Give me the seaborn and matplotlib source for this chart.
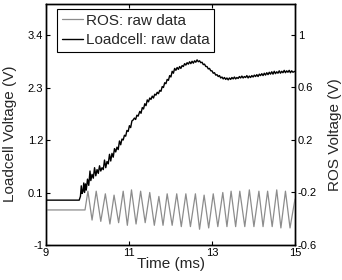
import matplotlib
matplotlib.use("Agg")
import matplotlib.pyplot as plt
import seaborn as sns
from matplotlib.lines import Line2D

# ---- data ----
load_t = [9.00, 9.80, 9.83, 9.85, 9.87, 9.89, 9.91, 9.93, 9.95, 9.97,
          10.00, 10.03, 10.06, 10.08, 10.11, 10.14, 10.17, 10.20, 10.23, 10.26,
          10.29, 10.32, 10.35, 10.38, 10.41, 10.44, 10.47, 10.50, 10.53, 10.56,
          10.59, 10.62, 10.65, 10.68, 10.71, 10.74, 10.77, 10.80, 10.83, 10.86,
          10.89, 10.92, 10.95, 10.98, 11.01, 11.04, 11.07, 11.10, 11.13, 11.16,
          11.19, 11.22, 11.26, 11.29, 11.32, 11.35, 11.38, 11.41, 11.44, 11.47,
          11.50, 11.53, 11.56, 11.59, 11.62, 11.65, 11.68, 11.71, 11.74, 11.77,
          11.80, 11.83, 11.86, 11.89, 11.92, 11.95, 11.98, 12.01, 12.04, 12.07,
          12.10, 12.13, 12.16, 12.19, 12.22, 12.25, 12.28, 12.31, 12.34, 12.37,
          12.40, 12.43, 12.46, 12.49, 12.52, 12.55, 12.58, 12.61, 12.64, 12.67,
          12.70, 12.73, 12.76, 12.79, 12.82, 12.85, 12.88, 12.91, 12.94, 12.97,
          13.00, 13.03, 13.06, 13.09, 13.12, 13.15, 13.18, 13.21, 13.24, 13.27,
          13.30, 13.33, 13.36, 13.39, 13.42, 13.45, 13.48, 13.51, 13.54, 13.57,
          13.60, 13.63, 13.66, 13.69, 13.72, 13.75, 13.78, 13.81, 13.84, 13.87,
          13.90, 13.93, 13.96, 13.99, 14.02, 14.05, 14.08, 14.11, 14.14, 14.17,
          14.20, 14.23, 14.26, 14.29, 14.32, 14.35, 14.38, 14.41, 14.44, 14.47,
          14.50, 14.53, 14.56, 14.59, 14.62, 14.65, 14.68, 14.71, 14.74, 14.77,
          14.80, 14.83, 14.86, 14.89, 14.92, 14.95, 15.00]
load_v = [-0.06, -0.06, 0.02, 0.24, 0.08, 0.12, 0.30, 0.10, 0.28, 0.15,
          0.38, 0.25, 0.55, 0.35, 0.48, 0.40, 0.62, 0.45, 0.58, 0.50,
          0.66, 0.55, 0.62, 0.58, 0.78, 0.62, 0.75, 0.70, 0.90, 0.76,
          0.92, 0.84, 1.02, 0.95, 1.05, 1.00, 1.18, 1.10, 1.22, 1.20,
          1.30, 1.28, 1.40, 1.38, 1.50, 1.46, 1.60, 1.62, 1.66, 1.63,
          1.72, 1.70, 1.80, 1.76, 1.88, 1.85, 1.96, 1.92, 2.04, 2.00,
          2.08, 2.05, 2.12, 2.08, 2.16, 2.14, 2.20, 2.17, 2.24, 2.22,
          2.32, 2.30, 2.40, 2.38, 2.47, 2.45, 2.55, 2.52, 2.64, 2.60,
          2.70, 2.66, 2.72, 2.68, 2.74, 2.70, 2.76, 2.74, 2.80, 2.77,
          2.82, 2.79, 2.84, 2.80, 2.85, 2.81, 2.86, 2.83, 2.88, 2.84,
          2.86, 2.82, 2.83, 2.78, 2.79, 2.74, 2.74, 2.69, 2.70, 2.65,
          2.65, 2.60, 2.61, 2.56, 2.57, 2.53, 2.55, 2.50, 2.52, 2.48,
          2.51, 2.47, 2.50, 2.46, 2.50, 2.47, 2.51, 2.48, 2.52, 2.48,
          2.51, 2.49, 2.53, 2.50, 2.54, 2.50, 2.53, 2.51, 2.55, 2.50,
          2.54, 2.51, 2.55, 2.52, 2.56, 2.53, 2.57, 2.53, 2.58, 2.55,
          2.59, 2.55, 2.60, 2.56, 2.61, 2.57, 2.62, 2.58, 2.63, 2.58,
          2.64, 2.59, 2.63, 2.60, 2.65, 2.60, 2.64, 2.61, 2.66, 2.61,
          2.65, 2.62, 2.66, 2.61, 2.65, 2.62, 2.64]

ros_t = [9.00, 9.94,
         10.01, 10.11, 10.21, 10.32, 10.43, 10.54, 10.64, 10.75, 10.86, 10.96,
         11.06, 11.17, 11.28, 11.39, 11.50, 11.61, 11.72, 11.82, 11.92, 12.04,
         12.15, 12.26, 12.37, 12.48, 12.60, 12.70, 12.81, 12.92, 13.03, 13.14,
         13.26, 13.36, 13.46, 13.57, 13.67, 13.79, 13.90, 14.01, 14.13, 14.23,
         14.34, 14.45, 14.56, 14.66, 14.77, 14.88, 15.00]
ros_v = [-0.333, -0.333,
         -0.19, -0.41, -0.19, -0.42, -0.21, -0.44, -0.22, -0.43, -0.19, -0.45,
         -0.18, -0.44, -0.19, -0.43, -0.20, -0.45, -0.23, -0.45, -0.21, -0.45,
         -0.21, -0.46, -0.21, -0.46, -0.21, -0.48, -0.22, -0.47, -0.21, -0.46,
         -0.20, -0.46, -0.19, -0.46, -0.19, -0.46, -0.18, -0.46, -0.19, -0.46,
         -0.19, -0.46, -0.18, -0.47, -0.19, -0.47, -0.25]

x_ticks = [9, 11, 13, 15]
left_ticks = [-1, 0.1, 1.2, 2.3, 3.4]
right_ticks = [-0.6, -0.2, 0.2, 0.6, 1]
left_labels = ["-1", "0.1", "1.2", "2.3", "3.4"]
right_labels = ["-0.6", "-0.2", "0.2", "0.6", "1"]

# ---- style ----
sns.set_style("white")
plt.rcParams["font.family"] = ["Liberation Sans", "DejaVu Sans"]

fig = plt.figure(figsize=(3.42, 2.80), dpi=100)
ax1 = fig.add_axes([46/342, 1-245/280, 249/342, 241/280])
ax2 = ax1.twinx()

ros_color = "#8c8c8c"
sns.lineplot(x=load_t, y=load_v, ax=ax1, color="black", linewidth=1.0,
             estimator=None, sort=False)
sns.lineplot(x=ros_t, y=ros_v, ax=ax2, color=ros_color, linewidth=0.9,
             estimator=None, sort=False)

ax1.set_xlim(9, 15)
ax1.set_ylim(-1, 4.05)
ax2.set_ylim(-0.6, 1.236)

ax1.set_xticks(x_ticks)
ax1.set_xticklabels([str(v) for v in x_ticks])
ax1.set_yticks(left_ticks)
ax1.set_yticklabels(left_labels)
ax2.set_yticks(right_ticks)
ax2.set_yticklabels(right_labels)

for ax in (ax1, ax2):
    for s in ax.spines.values():
        s.set_color("black")
        s.set_linewidth(1.0)

ax1.tick_params(axis="x", direction="in", length=3, width=0.8, top=True,
                bottom=True, labelsize=8, pad=2, colors="black")
ax1.tick_params(axis="y", direction="in", length=3, width=0.8, left=True,
                right=False, labelsize=8, pad=2, colors="black")
ax2.tick_params(axis="y", direction="in", length=3, width=0.8, right=True,
                left=False, labelsize=8, pad=2, colors="black")

ax1.set_xlabel("Time (ms)", fontsize=11)
ax1.set_ylabel("Loadcell Voltage (V)", fontsize=11)
ax2.set_ylabel("ROS Voltage (V)", fontsize=11, rotation=90)
ax1.xaxis.set_label_coords(0.5, -0.05)
ax1.yaxis.set_label_coords(-0.118, 0.46)
ax2.yaxis.set_label_coords(1.132, 0.46)

handles = [Line2D([], [], color=ros_color, linewidth=0.9),
           Line2D([], [], color="black", linewidth=1.0)]
leg = ax2.legend(handles, ["ROS: raw data", "Loadcell: raw data"],
                 loc="upper left", bbox_to_anchor=(11/249, 1 - 5/241),
                 fontsize=11, frameon=True, fancybox=False, framealpha=1,
                 edgecolor="black", borderpad=0.3, labelspacing=0.35,
                 handlelength=1.4, handletextpad=0.2, borderaxespad=0)
leg.get_frame().set_linewidth(0.8)

fig.savefig("out.png", dpi=100)
